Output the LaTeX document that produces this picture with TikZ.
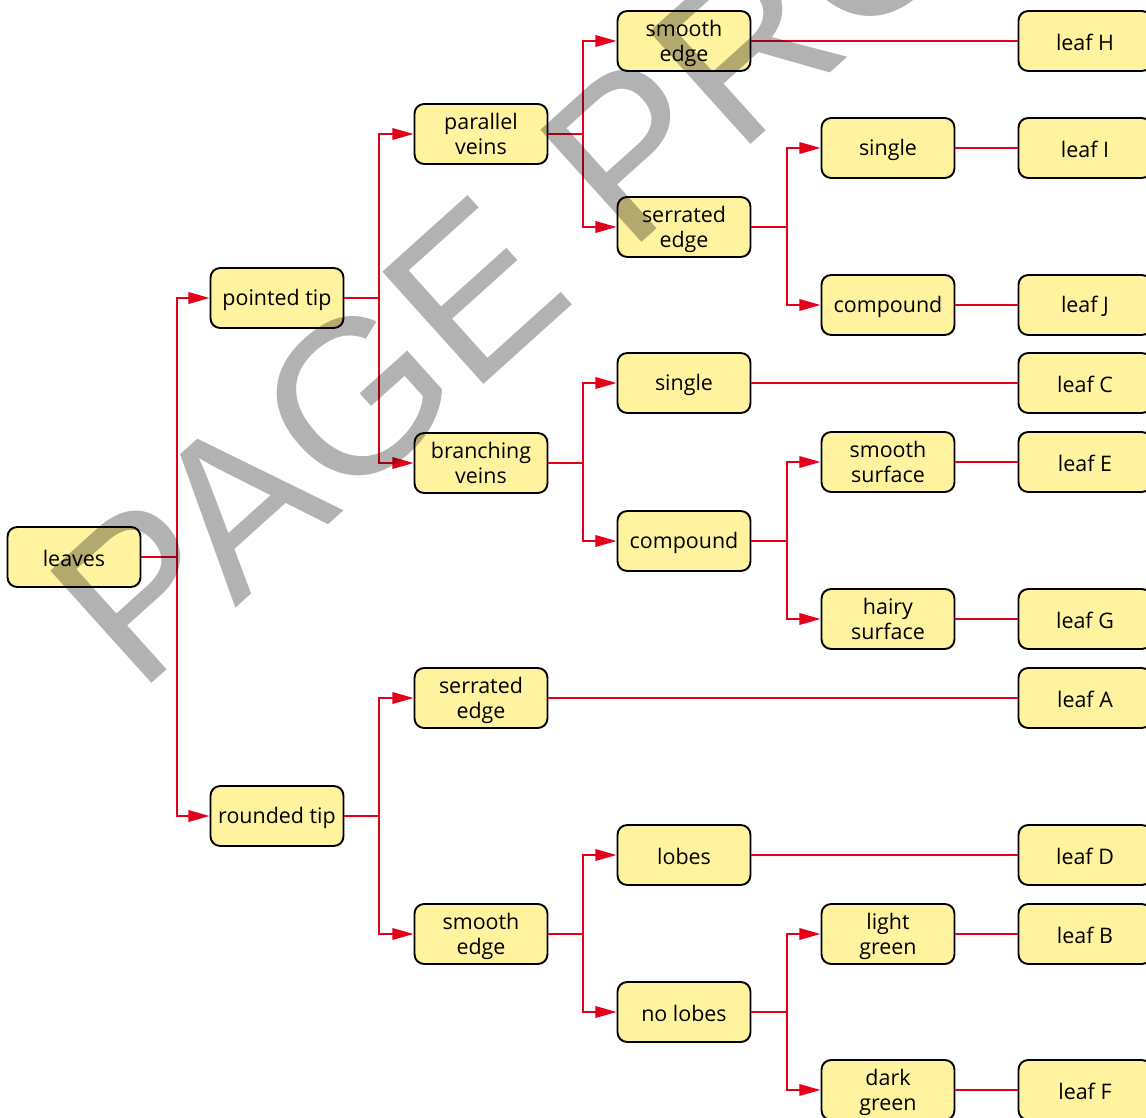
\documentclass[tikz,border=0pt]{standalone}
\usepackage{fontspec}
\setmainfont{Open Sans}
\newfontfamily\markfont{Liberation Sans}
\usepackage{tikz}
\usetikzlibrary{arrows.meta, positioning}
\definecolor{boxfill}{RGB}{255,243,159}
\definecolor{linered}{RGB}{228,0,27}
% two lines of a box, one baselineskip apart
\newcommand{\duo}[2]{\raisebox{0pt}[\height][\dimexpr\depth-3.4pt\relax]{\begin{tabular}{@{}c@{}}#1\\#2\end{tabular}}}

\begin{document}
\begin{tikzpicture}[x=0.02cm, y=-0.02cm,
  every node/.style={font=\fontsize{12.2}{14.3}\selectfont},
  choice/.style={draw, line width=1.1pt, fill=boxfill, rounded corners=5.5pt,
    minimum width=2.66cm, minimum height=1.2cm, inner sep=2pt, align=center,
    execute at begin node={\rule{0pt}{11.2pt}}},
  branch/.style={-{Triangle[length=12pt, width=6.5pt]}, line width=1.1pt, linered},
  leafline/.style={line width=1.1pt, linered},
]

\useasboundingbox (0,0) rectangle (1146,1118);
\clip (0,0) rectangle (1146,1118);

% root and tips
\node[choice] (leaves) at (74,557) {leaves};
\node[choice] (pointed-tip) at (277,298) {pointed tip};
\node[choice] (rounded-tip) at (277,816) {rounded tip};

% veins and edges
\node[choice] (parallel) at (481,134) {\duo{parallel}{veins}};
\node[choice] (branching) at (481,463) {\duo{branching}{veins}};
\node[choice] (serrated) at (481,698) {\duo{serrated}{edge}};
\node[choice] (smooth) at (481,934) {\duo{smooth}{edge}};

% third level
\node[choice] (p-smooth) at (684,41) {\duo{smooth}{edge}};
\node[choice] (p-serrated) at (684,227) {\duo{serrated}{edge}};
\node[choice] (b-single) at (684,383) {single};
\node[choice] (b-compound) at (684,541) {compound};
\node[choice] (s-lobes) at (684,855) {lobes};
\node[choice] (s-nolobes) at (684,1012) {no lobes};

% fourth level
\node[choice] (ps-single) at (888,148) {single};
\node[choice] (ps-compound) at (888,305) {compound};
\node[choice] (bc-smooth) at (888,462) {\duo{smooth}{surface}};
\node[choice] (bc-hairy) at (888,619) {\duo{hairy}{surface}};
\node[choice] (sn-light) at (888,934) {\duo{light}{green}};
\node[choice] (sn-dark) at (888,1090) {\duo{dark}{green}};

% leaves
\node[choice] (leaf-H) at (1085,41) {leaf H};
\node[choice] (leaf-I) at (1085,148) {leaf I};
\node[choice] (leaf-J) at (1085,305) {leaf J};
\node[choice] (leaf-C) at (1085,383) {leaf C};
\node[choice] (leaf-E) at (1085,462) {leaf E};
\node[choice] (leaf-G) at (1085,619) {leaf G};
\node[choice] (leaf-A) at (1085,698) {leaf A};
\node[choice] (leaf-D) at (1085,855) {leaf D};
\node[choice] (leaf-B) at (1085,934) {leaf B};
\node[choice] (leaf-F) at (1085,1090) {leaf F};

% branches
\draw[branch] (leaves.east) -- ++(36,0) |- (pointed-tip.west);
\draw[branch] (leaves.east) -- ++(36,0) |- (rounded-tip.west);
\draw[branch] (pointed-tip.east) -- ++(35,0) |- (parallel.west);
\draw[branch] (pointed-tip.east) -- ++(35,0) |- (branching.west);
\draw[branch] (rounded-tip.east) -- ++(35,0) |- (serrated.west);
\draw[branch] (rounded-tip.east) -- ++(35,0) |- (smooth.west);
\draw[branch] (parallel.east) -- ++(35,0) |- (p-smooth.west);
\draw[branch] (parallel.east) -- ++(35,0) |- (p-serrated.west);
\draw[branch] (branching.east) -- ++(35,0) |- (b-single.west);
\draw[branch] (branching.east) -- ++(35,0) |- (b-compound.west);
\draw[branch] (smooth.east) -- ++(35,0) |- (s-lobes.west);
\draw[branch] (smooth.east) -- ++(35,0) |- (s-nolobes.west);
\draw[branch] (p-serrated.east) -- ++(36,0) |- (ps-single.west);
\draw[branch] (p-serrated.east) -- ++(36,0) |- (ps-compound.west);
\draw[branch] (b-compound.east) -- ++(36,0) |- (bc-smooth.west);
\draw[branch] (b-compound.east) -- ++(36,0) |- (bc-hairy.west);
\draw[branch] (s-nolobes.east) -- ++(36,0) |- (sn-light.west);
\draw[branch] (s-nolobes.east) -- ++(36,0) |- (sn-dark.west);

% lines to leaves
\draw[leafline] (p-smooth) -- (leaf-H);
\draw[leafline] (ps-single) -- (leaf-I);
\draw[leafline] (ps-compound) -- (leaf-J);
\draw[leafline] (b-single) -- (leaf-C);
\draw[leafline] (bc-smooth) -- (leaf-E);
\draw[leafline] (bc-hairy) -- (leaf-G);
\draw[leafline] (serrated) -- (leaf-A);
\draw[leafline] (s-lobes) -- (leaf-D);
\draw[leafline] (sn-light) -- (leaf-B);
\draw[leafline] (sn-dark) -- (leaf-F);

% watermark
\node[anchor=base west, rotate=42, inner sep=0pt, text=black, text opacity=0.3,
  font=\markfont\fontsize{125}{125}\selectfont] (mark) at (138,696) {PAGE\hspace{0.3em}PROOF};
\end{tikzpicture}
\end{document}
